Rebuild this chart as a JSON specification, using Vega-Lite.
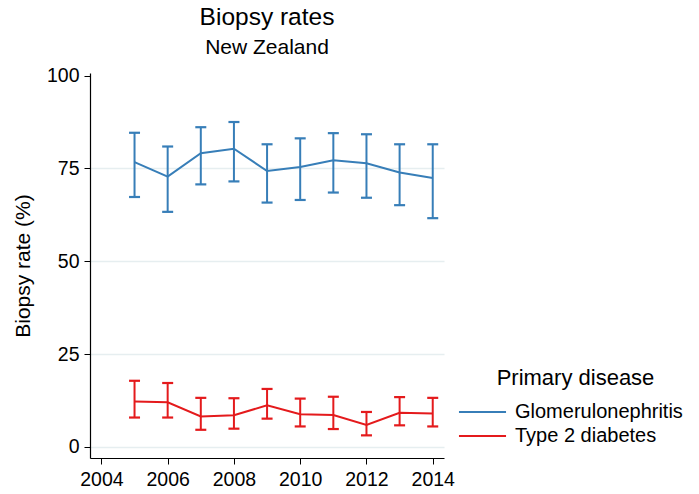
{
  "$schema": "https://vega.github.io/schema/vega-lite/v6.json",
  "autosize": "none",
  "padding": {"left": 90, "top": 73, "right": 255, "bottom": 36},
  "width": 354,
  "height": 385,
  "background": "white",
  "title": {
    "text": "Biopsy rates",
    "subtitle": "New Zealand",
    "anchor": "middle",
    "font": "Liberation Sans",
    "fontSize": 24.5,
    "fontWeight": "normal",
    "color": "black",
    "subtitleFont": "Liberation Sans",
    "subtitleFontSize": 21,
    "subtitleColor": "black",
    "subtitlePadding": 6,
    "offset": 7
  },
  "data": {
    "values": [
      {"year": 2005, "disease": "Glomerulonephritis", "rate": 76.7, "lo": 67.3, "hi": 84.6},
      {"year": 2006, "disease": "Glomerulonephritis", "rate": 72.8, "lo": 63.3, "hi": 80.9},
      {"year": 2007, "disease": "Glomerulonephritis", "rate": 79.1, "lo": 70.7, "hi": 86.1},
      {"year": 2008, "disease": "Glomerulonephritis", "rate": 80.3, "lo": 71.5, "hi": 87.5},
      {"year": 2009, "disease": "Glomerulonephritis", "rate": 74.3, "lo": 65.8, "hi": 81.5},
      {"year": 2010, "disease": "Glomerulonephritis", "rate": 75.4, "lo": 66.5, "hi": 83.1},
      {"year": 2011, "disease": "Glomerulonephritis", "rate": 77.2, "lo": 68.5, "hi": 84.5},
      {"year": 2012, "disease": "Glomerulonephritis", "rate": 76.4, "lo": 67.1, "hi": 84.2},
      {"year": 2013, "disease": "Glomerulonephritis", "rate": 73.9, "lo": 65.1, "hi": 81.5},
      {"year": 2014, "disease": "Glomerulonephritis", "rate": 72.4, "lo": 61.6, "hi": 81.5},
      {"year": 2005, "disease": "Type 2 diabetes", "rate": 12.2, "lo": 7.9, "hi": 17.8},
      {"year": 2006, "disease": "Type 2 diabetes", "rate": 12.0, "lo": 7.9, "hi": 17.2},
      {"year": 2007, "disease": "Type 2 diabetes", "rate": 8.2, "lo": 4.6, "hi": 13.2},
      {"year": 2008, "disease": "Type 2 diabetes", "rate": 8.5, "lo": 4.9, "hi": 13.1},
      {"year": 2009, "disease": "Type 2 diabetes", "rate": 11.2, "lo": 7.6, "hi": 15.6},
      {"year": 2010, "disease": "Type 2 diabetes", "rate": 8.8, "lo": 5.5, "hi": 13.0},
      {"year": 2011, "disease": "Type 2 diabetes", "rate": 8.6, "lo": 4.8, "hi": 13.5},
      {"year": 2012, "disease": "Type 2 diabetes", "rate": 5.9, "lo": 3.1, "hi": 9.4},
      {"year": 2013, "disease": "Type 2 diabetes", "rate": 9.2, "lo": 5.8, "hi": 13.4},
      {"year": 2014, "disease": "Type 2 diabetes", "rate": 9.0, "lo": 5.5, "hi": 13.2}
    ]
  },
  "encoding": {
    "x": {
      "field": "year",
      "type": "quantitative",
      "scale": {"domain": [2003.656, 2014.34], "nice": false, "zero": false},
      "axis": {
        "values": [2004, 2006, 2008, 2010, 2012, 2014],
        "format": "d",
        "title": null,
        "grid": false,
        "labelFont": "Liberation Sans",
        "labelFontSize": 19.5,
        "labelColor": "black",
        "labelPadding": 6,
        "tickSize": 6,
        "tickColor": "black",
        "domainColor": "black",
        "domainWidth": 1.2,
        "labelFlush": false
      }
    },
    "color": {
      "field": "disease",
      "type": "nominal",
      "scale": {"domain": ["Glomerulonephritis", "Type 2 diabetes"], "range": ["#377eb8", "#e41a1c"]},
      "legend": {
        "title": "Primary disease",
        "orient": "none",
        "legendX": 378.5,
        "legendY": 295,
        "padding": 0,
        "titleFont": "Liberation Sans",
        "titleFontSize": 22,
        "titleFontWeight": "normal",
        "titleColor": "black",
        "titleAnchor": "middle",
        "titleAlign": "center",
        "titlePadding": 8,
        "titleLimit": 0,
        "labelFont": "Liberation Sans",
        "labelFontSize": 20,
        "labelColor": "black",
        "labelLimit": 0,
        "labelOffset": 18.5,
        "symbolType": "M-1.81,0H1.81",
        "symbolSize": 676,
        "symbolStrokeWidth": 2,
        "rowPadding": 0
      }
    }
  },
  "layer": [
    {
      "mark": {"type": "rule", "strokeWidth": 2},
      "encoding": {
        "y": {
          "field": "lo",
          "type": "quantitative",
          "scale": {"domain": [-3, 100.7], "nice": false, "zero": false},
          "axis": {
            "values": [0, 25, 50, 75, 100],
            "title": "Biopsy rate (%)",
            "titleFont": "Liberation Sans",
            "titleFontSize": 21,
            "titleFontWeight": "normal",
            "titleColor": "black",
            "titlePadding": 13,
            "labelFont": "Liberation Sans",
            "labelFontSize": 19.5,
            "labelColor": "black",
            "labelPadding": 5,
            "tickSize": 6,
            "tickColor": "black",
            "domainColor": "black",
            "domainWidth": 1.2,
            "grid": true,
            "gridColor": "#e6eef0",
            "gridWidth": 1.5,
            "gridOpacity": {"condition": {"test": "datum.value === 100", "value": 0}, "value": 1}
          }
        },
        "y2": {"field": "hi"}
      }
    },
    {
      "mark": {"type": "tick", "orient": "horizontal", "size": 11, "thickness": 2.2, "opacity": 1},
      "encoding": {"y": {"field": "lo", "type": "quantitative"}}
    },
    {
      "mark": {"type": "tick", "orient": "horizontal", "size": 11, "thickness": 2.2, "opacity": 1},
      "encoding": {"y": {"field": "hi", "type": "quantitative"}}
    },
    {
      "mark": {"type": "line", "strokeWidth": 2},
      "encoding": {"y": {"field": "rate", "type": "quantitative"}}
    }
  ],
  "config": {"view": {"stroke": null}}
}
